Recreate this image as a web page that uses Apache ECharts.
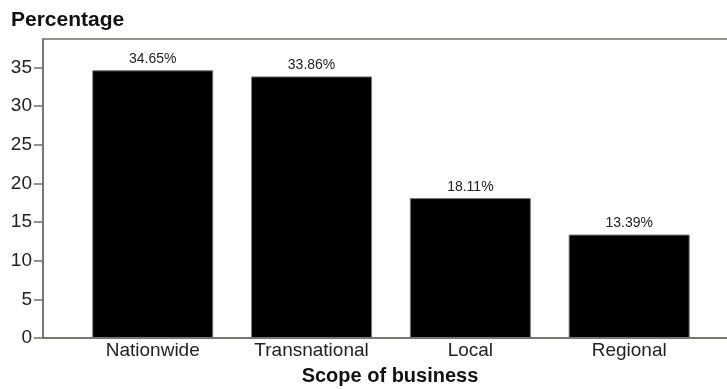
<!DOCTYPE html>
<html>
<head>
<meta charset="utf-8">
<script src="https://cdn.jsdelivr.net/npm/echarts@6/dist/echarts.min.js"></script>
<style>html,body{margin:0;padding:0;background:#fff}#c{width:727px;height:389px}</style>
</head>
<body>
<div id="c"></div>
<script>
const categories = ['Nationwide', 'Transnational', 'Local', 'Regional'];
const values = [34.65, 33.86, 18.11, 13.39];
const positions = [1, 2, 3, 4];
const yTicks = [0, 5, 10, 15, 20, 25, 30, 35];

const FONT = '"Liberation Sans", Arial, sans-serif';
const AXIS = '#6f6f66';
const chart = echarts.init(document.getElementById('c'), null, {renderer: 'canvas'});
chart.setOption({
  animation: false,
  backgroundColor: '#fff',
  grid: {left: 43, right: -10, top: 39, bottom: 51, show: true, borderColor: AXIS, borderWidth: 1.5,
         outerBoundsMode: 'none', containLabel: false},
  title: {
    text: 'Percentage', left: 11, top: 10, padding: 0,
    textStyle: {fontFamily: FONT, fontSize: 21, fontWeight: 'bold', color: '#111'}
  },
  xAxis: {
    type: 'value', min: 0.309, max: 4.679,
    name: 'Scope of business', nameLocation: 'middle', nameGap: 28,
    nameTextStyle: {fontFamily: FONT, fontSize: 20, fontWeight: 'bold', color: '#111'},
    axisLine: {show: true, lineStyle: {color: AXIS, width: 1.5}},
    axisTick: {show: false},
    splitLine: {show: false},
    axisLabel: {
      customValues: positions,
      formatter: v => categories[positions.indexOf(Math.round(v))] || '',
      fontFamily: FONT, fontSize: 19, color: '#222', margin: 3
    }
  },
  yAxis: {
    type: 'value', min: 0, max: 38.7,
    axisLine: {show: true, lineStyle: {color: AXIS, width: 1.5}},
    axisTick: {show: true, length: 9, customValues: yTicks, lineStyle: {color: AXIS, width: 1.5}},
    splitLine: {show: false},
    axisLabel: {customValues: yTicks, fontFamily: FONT, fontSize: 19, color: '#222', margin: 11}
  },
  series: [{
    type: 'bar',
    barWidth: 121,
    data: positions.map((p, i) => [p, values[i]]),
    itemStyle: {color: '#000', borderColor: '#777', borderWidth: 1},
    label: {
      show: true, position: 'top', distance: 4,
      formatter: p => p.value[1].toFixed(2) + '%',
      fontFamily: FONT, fontSize: 14, color: '#222'
    }
  }]
});
</script>
</body>
</html>
